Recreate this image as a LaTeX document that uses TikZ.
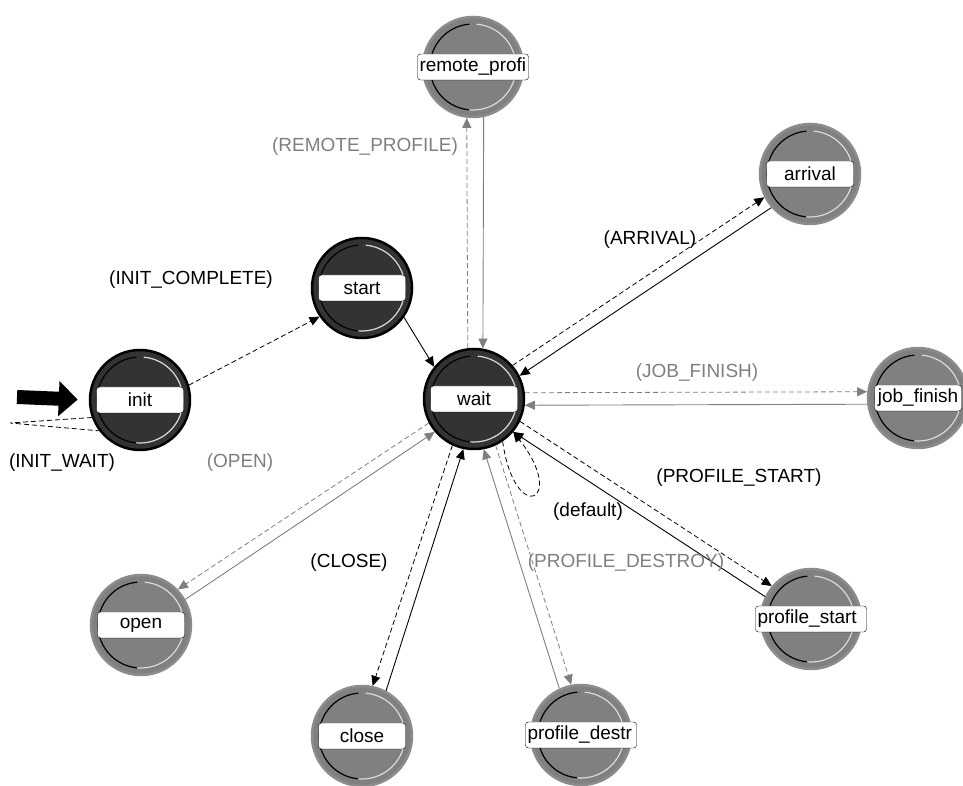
\documentclass[tikz,border=0pt]{standalone}
\usepackage{fontspec}
\setmainfont{Liberation Sans}
\usetikzlibrary{arrows.meta}

\definecolor{darkstate}{HTML}{333333}
\definecolor{graystate}{HTML}{808080}
\definecolor{ringgray}{HTML}{8C8C8C}
\definecolor{shine}{HTML}{D9D9D9}
\definecolor{transgray}{HTML}{7F7F7F}

\tikzset{
  state/.style={circle, minimum size=100pt, inner sep=0pt, line width=2.5pt,
    path picture={
      \draw[black, line width=1.2pt] (path picture bounding box.center) ++(95:43pt) arc[start angle=95, end angle=265, radius=43pt];
      \draw[shine, line width=1.2pt] (path picture bounding box.center) ++(-95:43pt) arc[start angle=-95, end angle=85, radius=43pt];
    }},
  forced/.style={state, fill=darkstate, draw=black},
  unforced/.style={state, fill=graystate, draw=ringgray},
  tag/.style={draw=black, fill=white, rounded corners=3pt, minimum width=87pt, minimum height=26pt, inner sep=1pt, text=black},
  widetag/.style={tag, minimum width=111pt, text width=107pt, align=left},
  cond/.style={dash pattern=on 5pt off 3pt, line width=0.8pt, -{Triangle[length=10pt,width=9pt]}},
  uncond/.style={line width=0.9pt, -{Triangle[length=10pt,width=9pt]}},
  event/.style={inner sep=0pt}
}

\begin{document}
\begin{tikzpicture}[x=1pt, y=1pt, font=\fontsize{19}{22}\selectfont]
\useasboundingbox (0,0) rectangle (963,786);
\clip (0,0) rectangle (963,786);

\node[forced, label={[tag,name=init-tag]center:init}] (init) at (140,386) {};
\node[forced, label={[tag,name=start-tag]center:start}] (start) at (362,498) {};
\node[forced, label={[tag,name=wait-tag]center:wait}] (wait) at (474,387) {};
\node[unforced, label={[widetag,name=remote-tag]center:remote\_profi}] (remote) at (473,719) {};
\node[unforced, label={[tag,name=arrival-tag]center:arrival}] (arrival) at (810,612) {};
\node[unforced, label={[tag,name=jobfinish-tag]center:job\_finish}] (jobfinish) at (918,388) {};
\node[unforced, label={[widetag,name=pstart-tag]center:profile\_start}] (pstart) at (811,167) {};
\node[unforced, label={[widetag,name=pdest-tag]center:profile\_destr}] (pdest) at (581,51) {};
\node[unforced, label={[tag,name=close-tag]center:close}] (close) at (362,50) {};
\node[unforced, label={[tag,name=open-tag]center:open}] (open) at (141,161) {};

\coordinate (entry) at (17,389);
\draw[line width=14pt, -{Triangle[length=19pt,width=34pt]}, shorten >=11pt] (entry) -- (init.west);

\coordinate (initloop) at (10,363);
\draw[cond, -] (init.200) -- (initloop) -- (init.217);

\draw[cond] (init.17) -- (start.214);
\draw[uncond] (start.-35) -- (wait.141);

\draw[cond, transgray] (wait.97) -- (remote.263);
\draw[uncond, transgray] (remote.282) -- (wait.80);

\draw[cond] (wait.41) -- (arrival.207);
\draw[uncond] (arrival.221) -- (wait.27);

\draw[cond, transgray] (wait.7) -- (jobfinish.173);
\draw[uncond, transgray] (jobfinish.187) -- (wait.-7);

\draw[cond] (wait.-26) -- (pstart.140);
\draw[uncond] (pstart.154) -- (wait.-40);

\draw[cond, transgray] (wait.-65) -- (pdest.101);
\draw[uncond, transgray] (pdest.115) -- (wait.-79);

\draw[cond] (wait.245) -- (close.78);
\draw[uncond] (close.62) -- (wait.258);

\draw[cond, transgray] (wait.208) -- (open.44);
\draw[uncond, transgray] (open.30) -- (wait.220);

\draw[cond] (wait.-56) .. controls +(12,-85) and +(55,-70) .. (wait.-40);

\node[event] (initcomplete) at (191,506) {(INIT\_COMPLETE)};
\node[event] (initwait) at (62,323) {(INIT\_WAIT)};
\node[event, transgray] (remoteprofile) at (365,639) {(REMOTE\_PROFILE)};
\node[event] (arrivalev) at (650,546) {(ARRIVAL)};
\node[event, transgray] (jobfinishev) at (697,413) {(JOB\_FINISH)};
\node[event] (profilestart) at (739,308) {(PROFILE\_START)};
\node[event] (defaultev) at (588,274) {(default)};
\node[event, transgray] (profiledestroy) at (626,223) {(PROFILE\_DESTROY)};
\node[event] (closeev) at (349,223) {(CLOSE)};
\node[event, transgray] (openev) at (240,323) {(OPEN)};

\end{tikzpicture}
\end{document}
